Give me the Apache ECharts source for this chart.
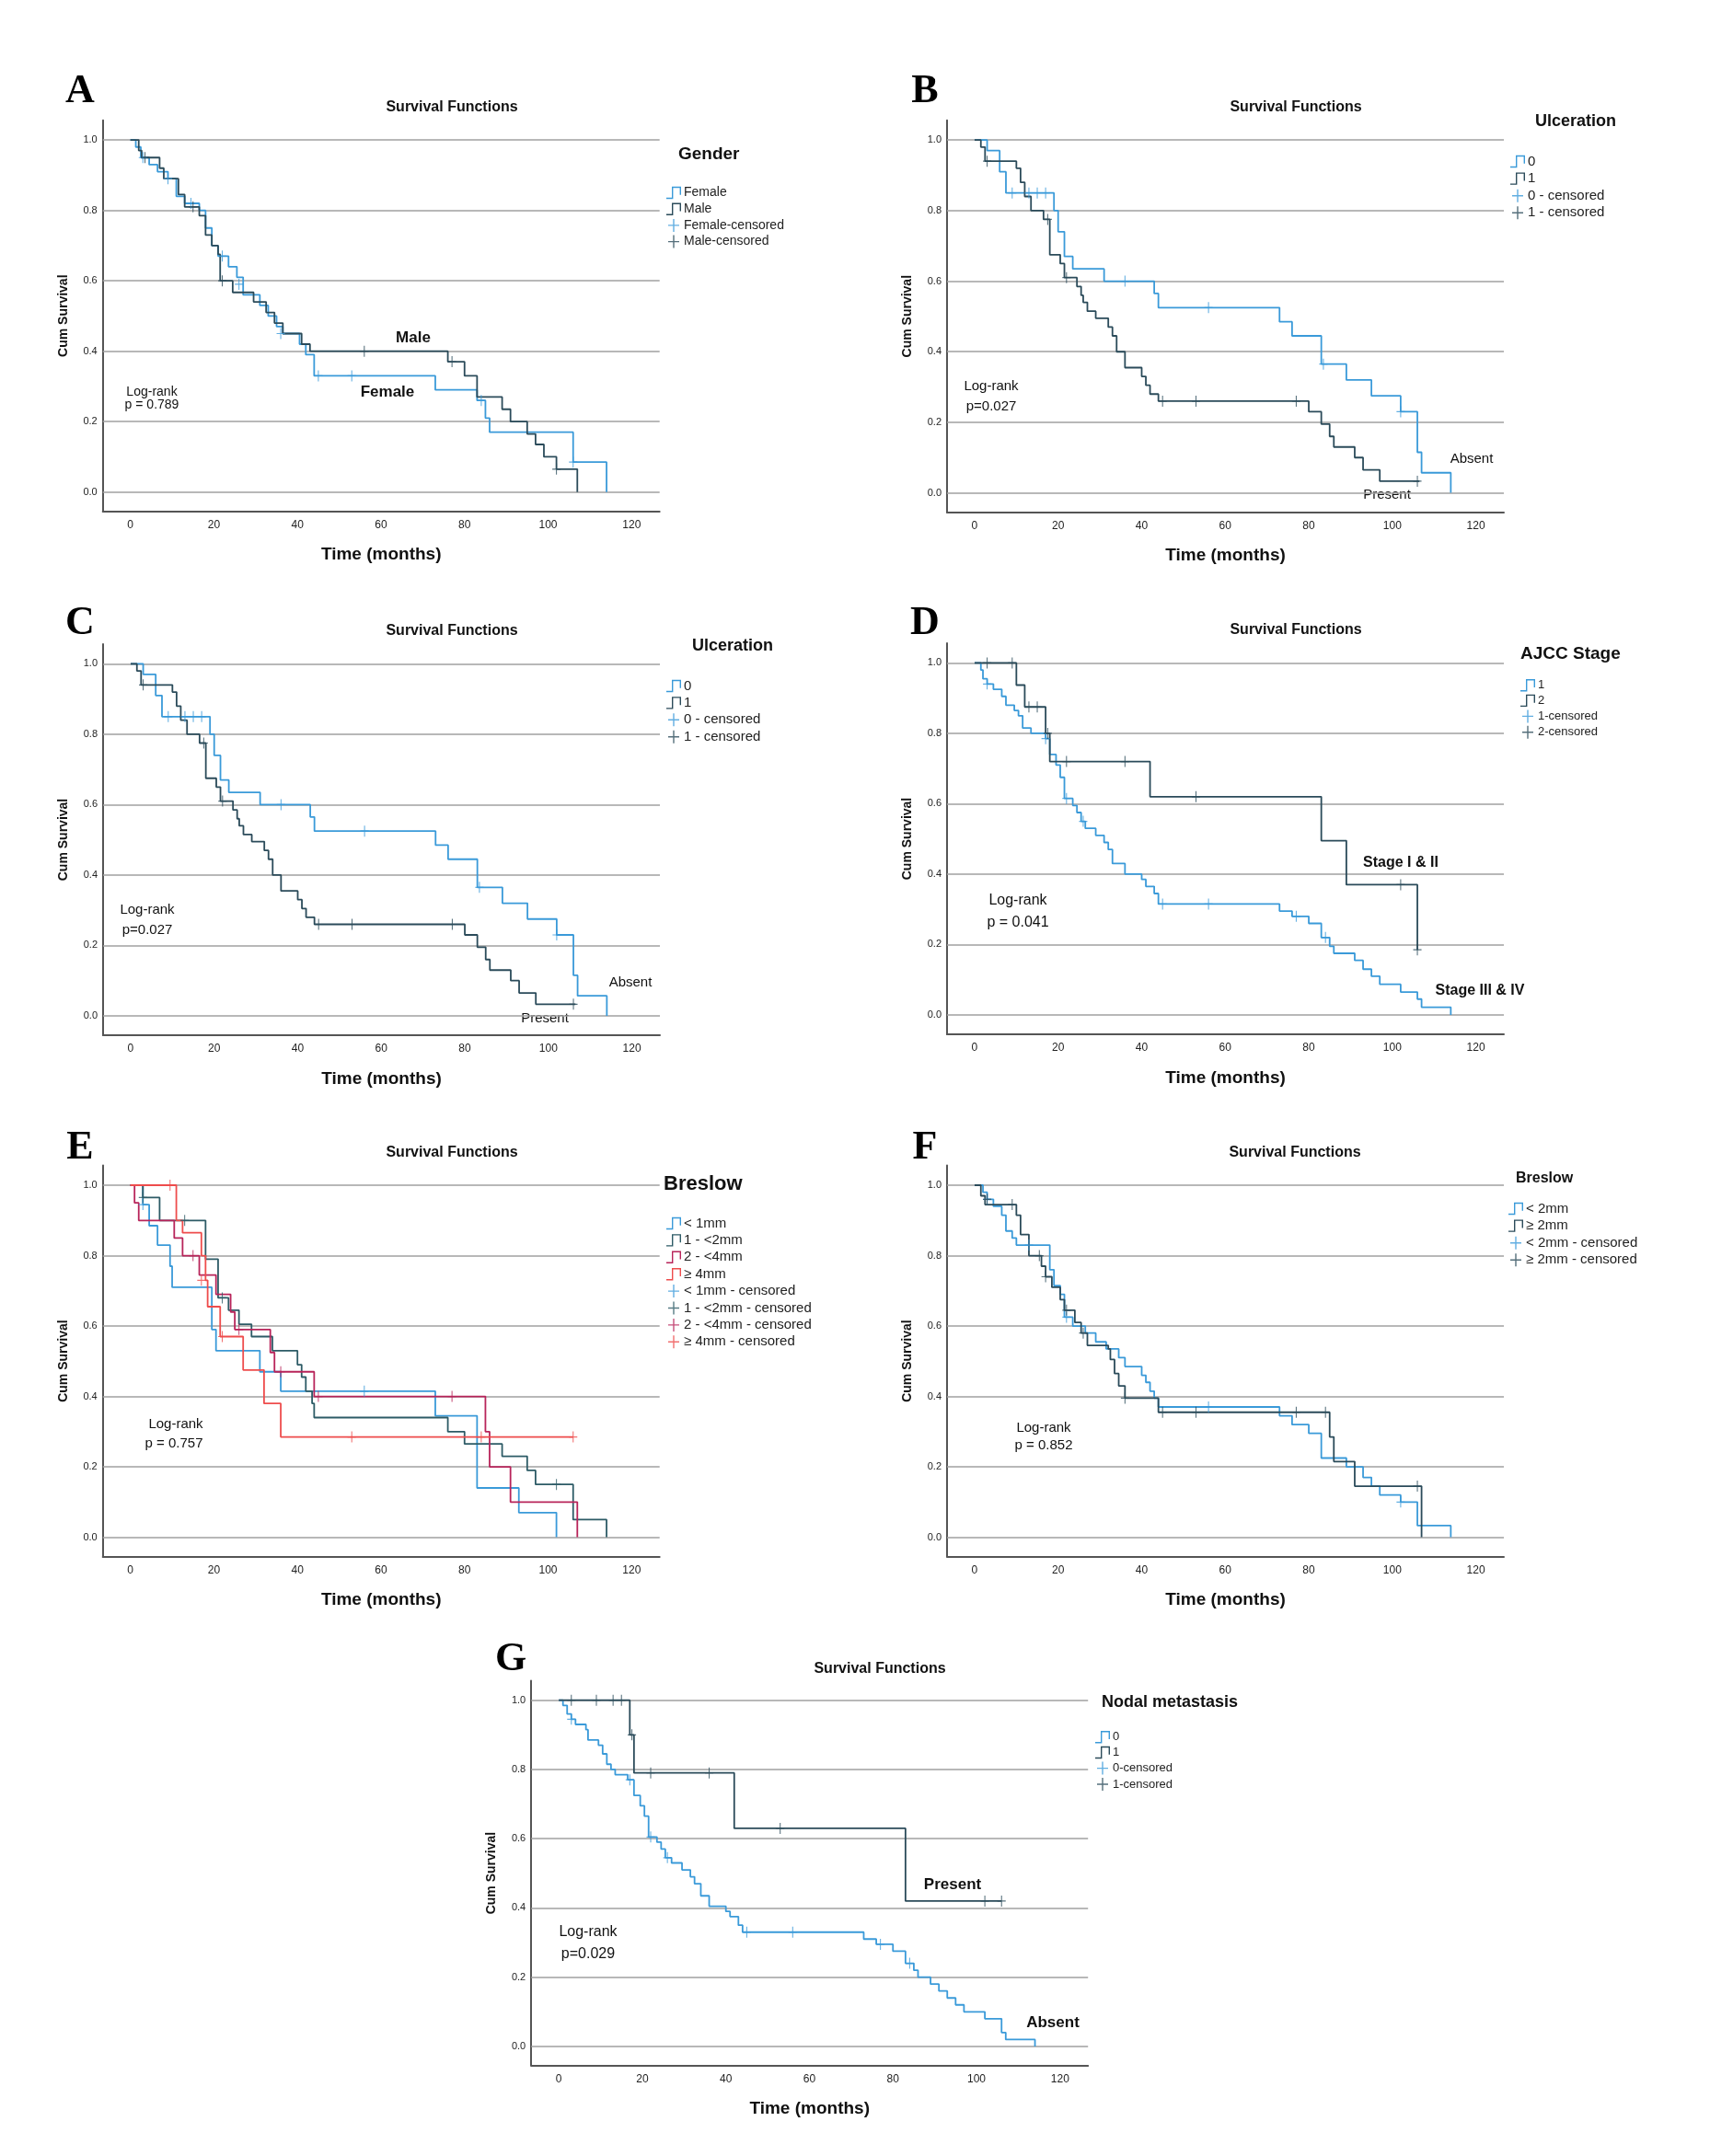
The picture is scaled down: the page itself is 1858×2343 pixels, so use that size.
<!DOCTYPE html>
<html><head><meta charset="utf-8">
<script src="https://cdn.jsdelivr.net/npm/echarts@6/dist/echarts.min.js"></script>
<style>html,body{margin:0;padding:0;background:#fff}#c{width:1858px;height:2343px}</style>
</head><body><div id="c"></div>
<script>
const xTicks=[0,20,40,60,80,100,120];
const yTicks=[0,0.2,0.4,0.6,0.8,1.0];
// A: Gender
const A_female=[[0,1],[1.3,0.98],[2.5,0.95],[4.5,0.93],[6.5,0.91],[9,0.89],[11,0.84],[13,0.82],[16.5,0.80],[18,0.75],[19.5,0.70],[21,0.67],[23.5,0.64],[25.5,0.61],[27,0.56],[31,0.53],[33,0.50],[35,0.47],[36.5,0.45],[40.5,0.42],[42,0.39],[44,0.33],[73,0.29],[83,0.26],[85,0.21],[86,0.17],[106,0.085],[114,0]];
const A_female_c=[[3,0.95],[9,0.89],[14.5,0.82],[22,0.67],[26,0.59],[36,0.45],[45,0.33],[53,0.33],[84,0.26],[106,0.085]];
const A_male=[[0,1],[2,0.97],[2.7,0.95],[7,0.92],[8,0.89],[11.5,0.845],[13,0.81],[16.5,0.785],[18,0.73],[19.5,0.70],[21,0.675],[21.5,0.60],[24.5,0.567],[29.5,0.54],[32.5,0.51],[34.5,0.48],[36.5,0.45],[41,0.42],[43,0.40],[76,0.37],[80,0.33],[83,0.27],[89,0.235],[91,0.20],[95,0.165],[97,0.135],[99,0.10],[102,0.065],[107,0]];
const A_male_c=[[3.5,0.95],[15,0.81],[22,0.60],[56,0.40],[77,0.37],[102,0.065]];
// B / C: Ulceration
const U_0=[[0,1],[3,0.97],[6,0.91],[7.5,0.85],[19,0.80],[20,0.74],[21.5,0.67],[23.5,0.635],[31,0.60],[43,0.565],[44,0.525],[73,0.485],[76,0.445],[83,0.365],[89,0.32],[95,0.275],[102,0.23],[106,0.115],[107,0.057],[114,0]];
const U_0_c=[[9,0.85],[13,0.85],[15,0.85],[17,0.85],[36,0.60],[56,0.525],[83.5,0.365],[102,0.23]];
const U_1=[[0,1],[1.5,0.98],[2.5,0.94],[10,0.92],[11,0.88],[12,0.84],[13.5,0.80],[16.5,0.775],[18,0.675],[20.5,0.65],[21.5,0.61],[24.5,0.585],[25.5,0.56],[26,0.54],[27,0.515],[29,0.495],[32,0.47],[33,0.445],[34,0.40],[36,0.355],[40,0.33],[41,0.305],[42,0.28],[44,0.26],[80,0.23],[83,0.195],[85,0.16],[86,0.13],[91,0.10],[93,0.065],[97,0.033],[106.5,0.033]];
const U_1_c=[[3,0.94],[17.5,0.775],[22,0.61],[45,0.26],[53,0.26],[77,0.26],[106,0.033]];
// D: AJCC
const D_1=[[0,1],[1.5,0.98],[2,0.955],[3,0.94],[4.5,0.925],[6.5,0.905],[7.5,0.88],[9.5,0.865],[10.5,0.85],[11.5,0.815],[13.5,0.80],[17,0.785],[18,0.74],[19.5,0.71],[20.5,0.675],[21.5,0.615],[23.5,0.595],[24.5,0.575],[25.5,0.55],[26.5,0.53],[29,0.51],[31,0.49],[32,0.47],[33,0.43],[36,0.40],[40,0.385],[41,0.365],[43,0.345],[44,0.315],[73,0.295],[76,0.28],[80,0.26],[83,0.22],[85,0.195],[86,0.175],[91,0.155],[93,0.13],[95,0.11],[97,0.087],[102,0.065],[106,0.045],[107,0.022],[114,0]];
const D_1_c=[[3,0.94],[17,0.785],[22,0.615],[26,0.55],[45,0.315],[56,0.315],[77,0.28],[84,0.22]];
const D_2=[[0,1],[10,0.937],[12,0.875],[17,0.80],[18,0.72],[42,0.62],[83,0.495],[89,0.37],[106,0.185]];
const D_2_c=[[3,1],[9,1],[13,0.875],[15,0.875],[17.5,0.80],[22,0.72],[36,0.72],[53,0.62],[102,0.37],[106,0.185]];
// E: Breslow 4 groups
const E_1=[[0,1],[3,0.945],[4.5,0.885],[6.5,0.83],[9.5,0.77],[10,0.71],[19.5,0.59],[20.5,0.53],[31,0.47],[36,0.415],[73,0.345],[83,0.14],[93,0.07],[102,0]];
const E_1_c=[[3,0.945],[56,0.415]];
const E_2=[[0,1],[3,0.965],[7,0.90],[18,0.79],[21,0.68],[23.5,0.645],[26,0.605],[29,0.57],[34,0.53],[40,0.49],[41,0.455],[42,0.415],[43.5,0.38],[44,0.34],[76,0.30],[80,0.265],[89,0.23],[95,0.19],[97,0.15],[106,0.05],[114,0]];
const E_2_c=[[3,0.965],[13,0.90],[22,0.68],[102,0.15]];
const E_3=[[0,1],[1,0.95],[2,0.90],[10.5,0.85],[12.5,0.80],[16.5,0.745],[20.5,0.69],[24,0.64],[25,0.59],[33.5,0.525],[34.5,0.47],[44,0.40],[85,0.30],[86,0.20],[91,0.10],[107,0]];
const E_3_c=[[15,0.80],[26,0.59],[36,0.47],[45,0.40],[77,0.40]];
const E_4=[[0,1],[11,0.90],[12.5,0.865],[17,0.80],[18,0.73],[18.5,0.655],[21.5,0.57],[27,0.475],[32,0.38],[36,0.285],[106,0.285]];
const E_4_c=[[9.5,1],[17,0.73],[22,0.57],[53,0.285],[84,0.285],[106,0.285]];
// F: Breslow 2 groups
const F_1=[[0,1],[2,0.98],[3,0.96],[4.5,0.94],[6.5,0.915],[7.5,0.87],[9,0.85],[10,0.83],[18,0.76],[19,0.715],[20.5,0.69],[21.5,0.625],[23.5,0.60],[26.5,0.58],[29,0.555],[31.5,0.535],[34.5,0.51],[36,0.485],[40,0.46],[41,0.44],[42,0.415],[43,0.395],[44,0.37],[73,0.345],[76,0.32],[80,0.295],[83,0.225],[89,0.20],[93,0.17],[95,0.145],[97,0.12],[102,0.10],[106,0.033],[114,0]];
const F_1_c=[[3,0.96],[13,0.83],[22,0.625],[56,0.37],[102,0.10]];
const F_2=[[0,1],[1.5,0.97],[2.5,0.945],[10,0.915],[11,0.86],[13,0.80],[16,0.77],[17,0.74],[18.5,0.71],[20.5,0.675],[21.5,0.645],[24,0.61],[25.5,0.58],[27,0.545],[32,0.535],[32.5,0.505],[33.5,0.465],[34.5,0.43],[36,0.395],[44,0.355],[85,0.285],[86,0.215],[91,0.145],[107,0]];
const F_2_c=[[3,0.96],[9,0.945],[15.5,0.80],[17,0.74],[22,0.645],[26,0.58],[36,0.395],[45,0.355],[53,0.355],[77,0.355],[84,0.355],[106,0.145]];
// G: Nodal metastasis
const G_0=[[0,1],[1,0.985],[2,0.96],[3,0.945],[4,0.93],[6.5,0.915],[7,0.885],[9.5,0.87],[10.5,0.845],[11.5,0.815],[12.5,0.80],[13.5,0.785],[16.5,0.77],[18,0.725],[19.5,0.695],[20.5,0.665],[21.5,0.605],[23.5,0.59],[24.5,0.57],[25.5,0.545],[27,0.53],[29.5,0.51],[31.5,0.49],[32.5,0.47],[34,0.435],[36,0.405],[40,0.39],[41,0.375],[43,0.35],[44,0.33],[73,0.31],[76,0.295],[80,0.275],[83,0.24],[85,0.22],[86,0.20],[89,0.18],[91,0.16],[93,0.14],[95,0.12],[97,0.10],[102,0.08],[106,0.04],[107,0.02],[114,0]];
const G_0_c=[[3,0.945],[17,0.77],[22,0.605],[26,0.545],[45,0.33],[56,0.33],[77,0.295],[84,0.24]];
const G_1=[[0,1],[17,0.90],[18,0.79],[42,0.63],[83,0.42],[106,0.42]];
const G_1_c=[[3,1],[9,1],[13,1],[15,1],[17.5,0.90],[22,0.79],[36,0.79],[53,0.63],[102,0.42],[106,0.42]];

const LB='#3a9ad9', DK='#2b4b5a';
const FONT='Liberation Sans, Arial, sans-serif';
const STEP='path://M0,13 L6,13 L6,1 L16,1 L16,10 L14.6,10 L14.6,2.4 L7.4,2.4 L7.4,14.4 L0,14.4 Z';
const CROSS='path://M5.3,0 L6.7,0 L6.7,14 L5.3,14 Z M0,6.3 L12,6.3 L12,7.7 L0,7.7 Z';

const panels=[
 {L:'A',g:[111.7,130.7,605,425],title:[491,117],lt:{t:'Gender',x:737,y:170,s:19},lg:[719,197.5,17.7,14],
  s:[['Female',A_female,LB],['Male',A_male,DK]],c:[['Female-censored',A_female_c,LB],['Male-censored',A_male_c,DK]],
  notes:[['Log-rank',165,426,14,'normal'],['p = 0.789',165,440,14,'normal'],['Male',449,367,17,'bold'],['Female',421,426,17,'bold']]},
 {L:'B',g:[1029,130.7,605,426],title:[1408,117],lt:{t:'Ulceration',x:1668,y:134,s:18},lg:[1636,163,17.6,15],
  s:[['0',U_0,LB],['1',U_1,DK]],c:[['0 - censored',U_0_c,LB],['1 - censored',U_1_c,DK]],
  notes:[['Log-rank',1077,420,15,'normal'],['p=0.027',1077,442,15,'normal'],['Absent',1599,499,15,'normal'],['Present',1507,538,15,'normal']]},
 {L:'C',g:[112,700,605,425],title:[491,686],lt:{t:'Ulceration',x:752,y:704,s:18},lg:[719,733,17.4,15],
  s:[['0 ',U_0,LB],['1 ',U_1,DK]],c:[['0 - censored ',U_0_c,LB],['1 - censored ',U_1_c,DK]],
  notes:[['Log-rank',160,989,15,'normal'],['p=0.027',160,1011,15,'normal'],['Absent',685,1068,15,'normal'],['Present',592,1107,15,'normal']]},
 {L:'D',g:[1029,699,605,425],title:[1408,685],lt:{t:'AJCC Stage',x:1652,y:713,s:19},lg:[1647,733,17.3,13],
  s:[['1',D_1,LB],['2',D_2,DK]],c:[['1-censored',D_1_c,LB],['2-censored',D_2_c,DK]],
  notes:[['Log-rank',1106,979,16,'normal'],['p = 0.041',1106,1003,16,'normal'],['Stage I & II',1522,938,16,'bold'],['Stage III & IV',1608,1077,16,'bold']]},
 {L:'E',g:[111.7,1266.6,605,425],title:[491,1253],lt:{t:'Breslow',x:721,y:1289,s:22},lg:[719,1317,17.4,15],
  s:[['< 1mm',E_1,LB],['1 - <2mm',E_2,'#2d5b66'],['2 - <4mm',E_3,'#b8245a'],['≥ 4mm',E_4,'#ee4c4c']],
  c:[['< 1mm - censored',E_1_c,LB],['1 - <2mm - censored',E_2_c,'#2d5b66'],['2 - <4mm - censored',E_3_c,'#b8245a'],['≥ 4mm - censored',E_4_c,'#ee4c4c']],
  notes:[['Log-rank',191,1548,15,'normal'],['p = 0.757',189,1569,15,'normal']]},
 {L:'F',g:[1029,1266.6,605,425],title:[1407,1253],lt:{t:'Breslow',x:1647,y:1282,s:16},lg:[1634,1301,17.6,15],
  s:[['< 2mm',F_1,LB],['≥ 2mm',F_2,DK]],c:[['< 2mm - censored',F_1_c,LB],['≥ 2mm - censored',F_2_c,DK]],
  notes:[['Log-rank',1134,1552,15,'normal'],['p = 0.852',1134,1571,15,'normal']]},
 {L:'G',g:[577.2,1826.6,605,418],title:[956,1814],lt:{t:'Nodal metastasis',x:1197,y:1852,s:18},lg:[1185,1876,17.4,13],
  s:[['0  ',G_0,LB],['1  ',G_1,DK]],c:[['0-censored',G_0_c,LB],['1-censored',G_1_c,DK]],
  notes:[['Log-rank',639,2100,16,'normal'],['p=0.029',639,2124,16,'normal'],['Present',1035,2048,17,'bold'],['Absent',1144,2198,17,'bold']]}
];
const letterPos={A:[87,100],B:[1005,100],C:[87,678],D:[1005,678],E:[87,1248],F:[1005,1248],G:[555,1804]};

const grid=[],xAxis=[],yAxis=[],series=[],legend=[],graphic=[];
panels.forEach((p,i)=>{
  grid.push({left:p.g[0],top:p.g[1],width:p.g[2],height:p.g[3]});
  xAxis.push({gridIndex:i,type:'value',min:-6.6,max:126.7,
    axisLine:{show:true,onZero:false,lineStyle:{color:'#555',width:2}},axisTick:{show:false},splitLine:{show:false},
    axisLabel:{customValues:xTicks,fontSize:12,color:'#222',fontFamily:FONT,margin:9},
    name:'Time (months)',nameLocation:'middle',nameGap:38,nameTextStyle:{fontSize:19,fontWeight:'bold',color:'#111',fontFamily:FONT}});
  yAxis.push({gridIndex:i,type:'value',min:-0.055,max:1.056,
    axisLine:{show:true,onZero:false,lineStyle:{color:'#555',width:2}},axisTick:{show:false},splitLine:{show:false},
    axisLabel:{customValues:yTicks,fontSize:11,color:'#222',fontFamily:FONT,margin:6,formatter:v=>v.toFixed(1)},
    name:'Cum Survival',nameLocation:'middle',nameGap:36,nameTextStyle:{fontSize:14,fontWeight:'bold',color:'#111',fontFamily:FONT}});
  const legData=[];
  p.s.forEach((s,k)=>{
    series.push({type:'line',name:s[0],xAxisIndex:i,yAxisIndex:i,step:'end',data:s[1],showSymbol:false,
      lineStyle:{color:s[2],width:1.8},itemStyle:{color:s[2]},z:3,
      markLine:k===0?{silent:true,symbol:'none',label:{show:false},lineStyle:{color:'#a0a0a0',width:1.5,type:'solid'},
        data:yTicks.map(v=>({yAxis:v})),z:1}:undefined});
    legData.push({name:s[0],icon:STEP,itemStyle:{color:s[2]}});
  });
  p.c.forEach(s=>{
    series.push({type:'scatter',name:s[0],xAxisIndex:i,yAxisIndex:i,data:s[1],symbol:CROSS,symbolSize:[9,12],
      itemStyle:{color:s[2]},z:4});
    legData.push({name:s[0],icon:CROSS,itemStyle:{color:s[2]}});
  });
  legend.push({orient:'vertical',left:p.lg[0],top:p.lg[1],itemGap:p.lg[2]-14,itemWidth:16,itemHeight:14,
    selectedMode:false,data:legData,textStyle:{fontSize:p.lg[3],color:'#222',fontFamily:FONT,padding:[0,0,0,-2]}});
  graphic.push({type:'text',left:p.lt.x,top:p.lt.y-p.lt.s*0.6,style:{text:p.lt.t,font:'bold '+p.lt.s+'px '+FONT,fill:'#111'}});
  graphic.push({type:'text',x:p.title[0],y:p.title[1],style:{text:'Survival Functions',font:'bold 16px '+FONT,fill:'#111',align:'center',verticalAlign:'middle'}});
  const lp=letterPos[p.L];
  graphic.push({type:'text',x:lp[0],y:lp[1],style:{text:p.L,font:'bold 44px Liberation Serif, Times New Roman, serif',fill:'#000',align:'center',verticalAlign:'middle'}});
  p.notes.forEach(n=>graphic.push({type:'text',x:n[1],y:n[2],style:{text:n[0],font:n[4]+' '+n[3]+'px '+FONT,fill:'#111',align:'center',verticalAlign:'middle'}}));
});
const chart=echarts.init(document.getElementById('c'),null,{renderer:'canvas'});
chart.setOption({animation:false,backgroundColor:'#fff',grid,xAxis,yAxis,series,legend,graphic});
</script></body></html>
